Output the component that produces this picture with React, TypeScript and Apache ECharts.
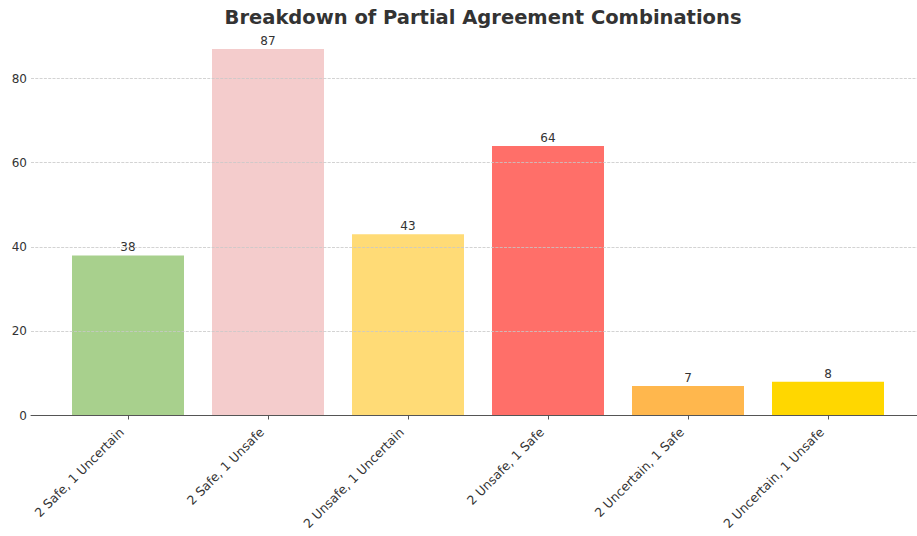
import React, { useEffect, useRef } from "react";
import * as echarts from "echarts";

const categories = [
  "2 Safe, 1 Uncertain",
  "2 Safe, 1 Unsafe",
  "2 Unsafe, 1 Uncertain",
  "2 Unsafe, 1 Safe",
  "2 Uncertain, 1 Safe",
  "2 Uncertain, 1 Unsafe",
];
const counts = [38, 87, 43, 64, 7, 8];
const barColors = ["#a8d08d", "#f4cccc", "#ffdb76", "#ff6f69", "#ffb74d", "#ffd700"];
const yTicks = [0, 20, 40, 60, 80];
const titleText = "Breakdown of Partial Agreement Combinations";

export default function App() {
  const ref = useRef<HTMLDivElement>(null);
  useEffect(() => {
    if (!ref.current) return;
    const chart = echarts.init(ref.current, undefined, { renderer: "svg" });
    const font = "DejaVu Sans";
    const yMax = 100;
    const bottomY = 415.5;
    const pxPerUnit = 4.2125;
    const gridHeight = yMax * pxPerUnit;
    const gridTop = bottomY - gridHeight;
    chart.setOption({
      animation: false,
      textStyle: { fontFamily: font },
      title: {
        text: titleText,
        left: 478,
        textAlign: "center",
        top: 2,
        textStyle: { fontSize: 19.5, fontWeight: "bold", color: "#333333", fontFamily: font },
      },
      grid: [
        { left: 31, width: 893.6, top: gridTop, height: gridHeight, containLabel: false, outerBoundsMode: "none" },
        { left: 58, width: 840, top: gridTop, height: gridHeight, containLabel: false, outerBoundsMode: "none" },
      ],
      xAxis: [
        {
          gridIndex: 0,
          type: "value",
          min: 0,
          max: 1,
          axisLine: { show: true, lineStyle: { color: "#555555", width: 1 } },
          axisTick: { show: false },
          axisLabel: { show: false },
          splitLine: { show: false },
          z: 5,
        },
        {
          gridIndex: 1,
          type: "category",
          data: categories,
          boundaryGap: true,
          axisLine: { show: false },
          axisTick: { show: true, alignWithLabel: true, length: 4, lineStyle: { color: "#555555" } },
          axisLabel: {
            rotate: 45,
            fontSize: 12.5,
            color: "#333333",
            fontFamily: font,
            margin: 8,
            padding: [0, 9, 0, 0],
            interval: 0,
          },
          splitLine: { show: false },
        },
      ],
      yAxis: [
        {
          gridIndex: 0,
          type: "value",
          min: 0,
          max: yMax,
          interval: 20,
          axisLine: { show: false },
          axisTick: { show: false },
          axisLabel: {
            fontSize: 12,
            color: "#333333",
            fontFamily: font,
            margin: 4,
            showMaxLabel: false,
            formatter: (v: number) => (yTicks.includes(v) ? String(v) : ""),
          },
          splitLine: {
            show: true,
            lineStyle: { color: "#c8c8c8", type: [3, 1.3], width: 0.8 },
          },
          z: 4,
        },
        {
          gridIndex: 1,
          type: "value",
          min: 0,
          max: yMax,
          interval: 20,
          show: false,
          splitLine: { show: false },
        },
      ],
      series: [
        {
          type: "bar",
          xAxisIndex: 1,
          yAxisIndex: 1,
          barWidth: 112,
          z: 2,
          data: counts.map((v, i) => ({ value: v, itemStyle: { color: barColors[i] } })),
          label: {
            show: true,
            position: "top",
            distance: 2,
            fontSize: 12,
            color: "#333333",
            fontFamily: font,
          },
        },
      ],
    });
    return () => chart.dispose();
  }, []);
  return (
    <div style={{ position: "fixed", left: 0, top: 0, width: 917, height: 536, overflow: "hidden", background: "#ffffff" }}>
      <div ref={ref} style={{ width: 925, height: 536 }} />
    </div>
  );
}
